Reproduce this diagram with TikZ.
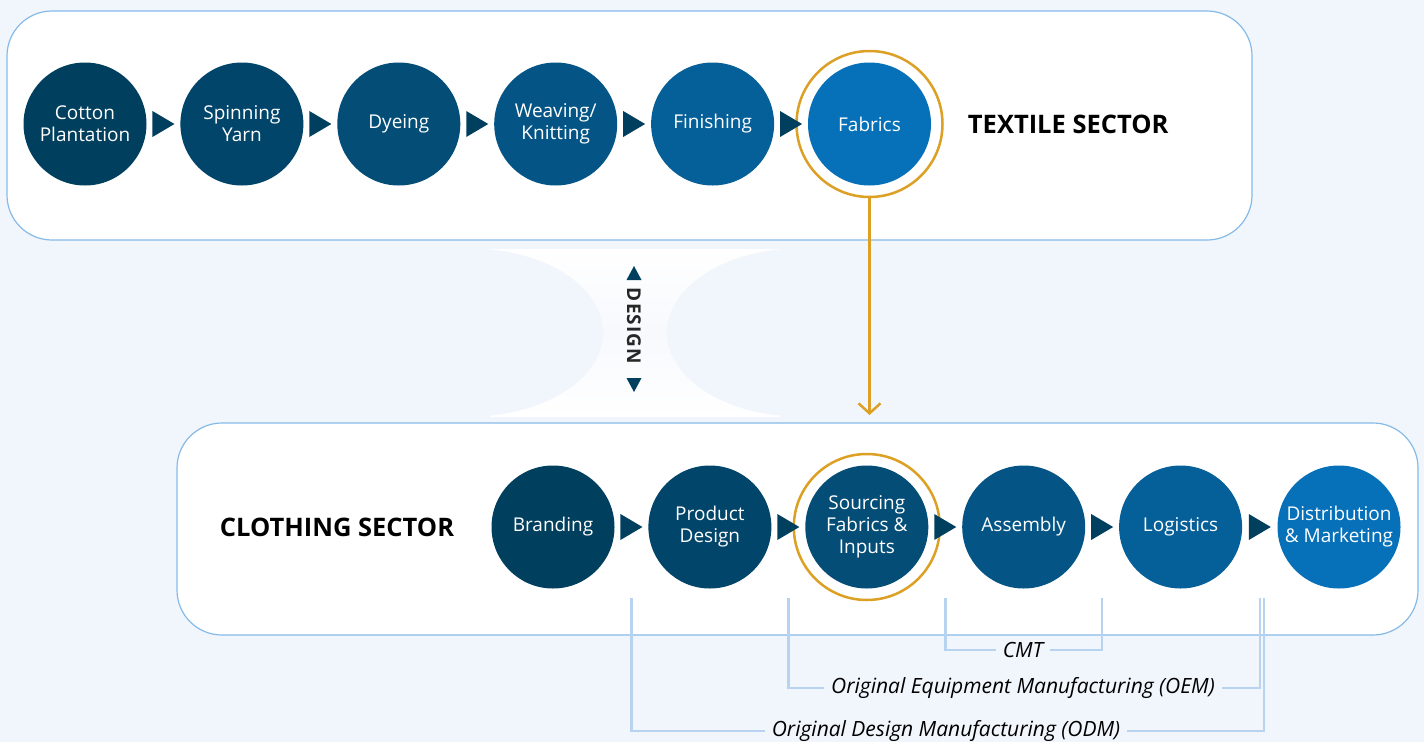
\documentclass[tikz,border=0pt]{standalone}
\usepackage{fontspec}
\setmainfont{Open Sans}
\usetikzlibrary{positioning}
\usetikzlibrary{calc}
\usetikzlibrary{arrows.meta}
\definecolor{bgblue}{HTML}{F1F5FC}
\definecolor{bgmid}{HTML}{F7F9FD}
\definecolor{boxblue}{HTML}{86BBE8}
\definecolor{linkblue}{HTML}{B8D3F0}
\definecolor{ringorange}{HTML}{DCA024}
\definecolor{stepA}{HTML}{003F5E}
\definecolor{stepB}{HTML}{02456A}
\definecolor{stepC}{HTML}{034D77}
\definecolor{stepD}{HTML}{045586}
\definecolor{stepE}{HTML}{055F98}
\definecolor{stepF}{HTML}{0670B8}

\begin{document}
\begin{tikzpicture}[x=1pt, y=-1pt]
	\tikzstyle{stepnode}=[circle, minimum size=123pt, inner sep=0pt, text=white, align=center, font=\fontsize{19}{22}\selectfont]
	\tikzstyle{ringnode}=[circle, draw=ringorange, line width=2.5pt, minimum size=146pt, inner sep=0pt]
	\tikzstyle{sectorbox}=[draw=boxblue, line width=1.2pt, fill=white, rounded corners=45pt]
	\tikzstyle{headnode}=[font=\fontsize{25.5}{28}\selectfont\bfseries, text=black, inner sep=0pt]
	\tikzstyle{spannode}=[font=\fontsize{21}{24}\selectfont\itshape, text=black, inner xsep=7pt, inner ysep=0pt]
	\tikzstyle{bracketline}=[draw=linkblue, line width=2.5pt]

	\useasboundingbox (0,0) rectangle (1424,742);
	\fill[bgblue] (0,0) rectangle (1424,742);

	% design passage between the two sectors
	\shade[top color=white, bottom color=white, middle color=bgmid] (490,249) rectangle (780,416);
	\fill[bgblue] (470,332.5) ellipse [x radius=133pt, y radius=84pt];
	\fill[bgblue] (800,332.5) ellipse [x radius=133pt, y radius=84pt];

	\draw[sectorbox] (7,11) rectangle (1252,240);
	\draw[sectorbox] (177,423) rectangle (1418,635);

	% textile sector
	\node (t1) at (85,124) [stepnode, fill=stepA] {Cotton\\Plantation};
	\node (t2) [stepnode, fill=stepB, right=33.5pt of t1] {Spinning\\Yarn};
	\node (t3) [stepnode, fill=stepC, right=33.5pt of t2] {Dyeing};
	\node (t4) [stepnode, fill=stepD, right=33.5pt of t3] {Weaving/\\Knitting};
	\node (t5) [stepnode, fill=stepE, right=33.5pt of t4] {Finishing};
	\node (t6) [stepnode, fill=stepF, right=33.5pt of t5] {Fabrics};
	\node (t6ring) at (t6) [ringnode] {};
	\node (textile) [headnode, right=24pt of t6ring] {TEXTILE SECTOR};
	\foreach \a/\b [count=\i] in {t1/t2,t2/t3,t3/t4,t4/t5,t5/t6} {
		\coordinate (a\i) at ($(\a.east)!0.5!(\b.west)$);
		\fill[stepA] (a\i) +(-11,-13) -- +(11,0) -- +(-11,13) -- cycle;
	}

	% clothing sector
	\node (b1) at (553,527) [stepnode, fill=stepA] {Branding};
	\node (b2) [stepnode, fill=stepB, right=33.5pt of b1] {Product\\Design};
	\node (b3) [stepnode, fill=stepC, right=33.5pt of b2] {Sourcing\\Fabrics \&\\Inputs};
	\node (b4) [stepnode, fill=stepD, right=33.5pt of b3] {Assembly};
	\node (b5) [stepnode, fill=stepE, right=33.5pt of b4] {Logistics};
	\node (b6) [stepnode, fill=stepF, right=35pt of b5] {Distribution\\\& Marketing};
	\node (b3ring) at (b3) [ringnode] {};
	\node (clothing) [headnode, left=37pt of b1] {CLOTHING SECTOR};
	\foreach \a/\b [count=\i] in {b1/b2,b2/b3,b3/b4,b4/b5,b5/b6} {
		\coordinate (g\i) at ($(\a.east)!0.5!(\b.west)$);
		\fill[stepA] (g\i) +(-11,-13) -- +(11,0) -- +(-11,13) -- cycle;
	}

	% fabrics feed the sourcing step
	\coordinate (drop) at (t6 |- 0,415);
	\draw[ringorange, line width=2.5pt, -{Straight Barb[length=10pt, width=22pt]}] (t6ring.south) -- (drop);

	% design link
	\node (design) at (634,326) [rotate=-90, font=\fontsize{19}{22}\selectfont\bfseries\addfontfeatures{LetterSpace=6}, text=black!85] {DESIGN};
	\fill[stepA] (design) ++(0,-60) -- ++(7.5,14) -- ++(-15,0) -- cycle;
	\fill[stepA] (design) ++(0,66) -- ++(7.5,-14) -- ++(-15,0) -- cycle;

	% production models
	\node (cmt) at (1023,650) [spannode] {CMT};
	\node (oem) at (1023,688) [spannode] {Original Equipment Manufacturing (OEM)};
	\node (odm) at (946,731) [spannode] {Original Design Manufacturing (ODM)};
	\draw[bracketline] ($(g3)+(0,71)$) |- (cmt.west);
	\draw[bracketline] ($(g4)+(0,71)$) |- (cmt.east);
	\draw[bracketline] ($(g2)+(0,71)$) |- (oem.west);
	\draw[bracketline] ($(g5)+(0,71)$) |- (oem.east);
	\draw[bracketline] ($(g1)+(0,71)$) |- (odm.west);
	\draw[bracketline] ($(g5)+(4,71)$) |- (odm.east);
\end{tikzpicture}
\end{document}
